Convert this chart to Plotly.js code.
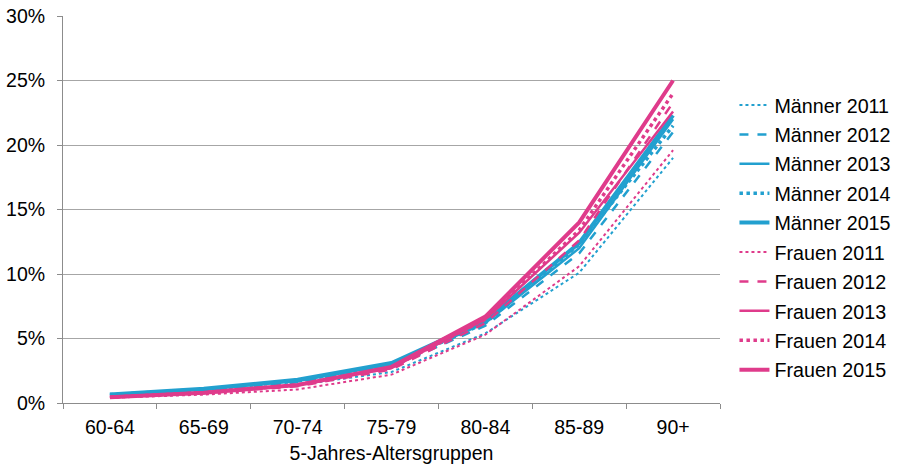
<!DOCTYPE html>
<html>
<head>
<meta charset="utf-8">
<script src="https://cdn.plot.ly/plotly-3.0.1.min.js"></script>
<style>html,body{margin:0;padding:0;background:#fff;}#chart{width:899px;height:466px;}</style>
</head>
<body>
<div id="chart"></div>
<script>
const categories = ["60-64","65-69","70-74","75-79","80-84","85-89","90+"];
const maenner2011 = [0.60, 0.95, 1.40, 2.40, 5.40, 10.1, 19.0];
const maenner2012 = [0.60, 1.00, 1.60, 2.80, 6.00, 11.6, 21.0];
const maenner2013 = [0.65, 1.05, 1.70, 3.00, 6.20, 12.0, 22.0];
const maenner2014 = [0.65, 1.05, 1.70, 3.00, 6.20, 12.3, 21.5];
const maenner2015 = [0.65, 1.10, 1.80, 3.10, 6.40, 12.4, 22.3];
const frauen2011 = [0.40, 0.65, 1.05, 2.20, 5.30, 10.6, 19.6];
const frauen2012 = [0.45, 0.75, 1.30, 2.60, 6.20, 12.6, 23.3];
const frauen2013 = [0.45, 0.80, 1.40, 2.70, 6.50, 13.2, 22.6];
const frauen2014 = [0.45, 0.80, 1.40, 2.75, 6.50, 13.4, 24.0];
const frauen2015 = [0.45, 0.80, 1.40, 2.80, 6.70, 14.0, 25.0];
const yTicks = [0, 5, 10, 15, 20, 25, 30];

const blue = "#22A0CF";
const pink = "#DF3B8B";

const series = [
  {name: "Männer 2011", y: maenner2011, color: blue, dash: "dot", width: 2},
  {name: "Männer 2012", y: maenner2012, color: blue, dash: "dash", width: 2.5},
  {name: "Männer 2013", y: maenner2013, color: blue, dash: "solid", width: 2.5},
  {name: "Männer 2014", y: maenner2014, color: blue, dash: "dot", width: 3.5},
  {name: "Männer 2015", y: maenner2015, color: blue, dash: "solid", width: 4},
  {name: "Frauen 2011", y: frauen2011, color: pink, dash: "dot", width: 2},
  {name: "Frauen 2012", y: frauen2012, color: pink, dash: "dash", width: 2.5},
  {name: "Frauen 2013", y: frauen2013, color: pink, dash: "solid", width: 2.5},
  {name: "Frauen 2014", y: frauen2014, color: pink, dash: "dot", width: 3.5},
  {name: "Frauen 2015", y: frauen2015, color: pink, dash: "solid", width: 4}
];

const traces = series.map((s, i) => ({
  type: "scatter", mode: "lines", x: categories, y: s.y, name: s.name,
  legendgroup: "g" + i,
  line: {color: s.color, dash: s.dash, width: s.width}
}));

const layout = {
  width: 899, height: 466,
  margin: {l: 63, r: 179, t: 16, b: 63, autoexpand: false},
  paper_bgcolor: "#fff", plot_bgcolor: "#fff",
  font: {family: "Liberation Sans, Arial, sans-serif", size: 19.5, color: "#000"},
  showlegend: true,
  legend: {x: 1.022, xanchor: "left", y: 0.82, yanchor: "top", tracegroupgap: 0.8,
           font: {size: 19.7, color: "#000"}, bgcolor: "rgba(0,0,0,0)"},
  xaxis: {
    type: "category", range: [-0.5, 6.5], showgrid: false, showline: true, linecolor: "#8c8c8c", linewidth: 1,
    ticks: "outside", tickson: "boundaries", ticklen: 5, tickcolor: "#8c8c8c",
    tickfont: {size: 19.5}, zeroline: false, ticklabelstandoff: 7,
    title: {text: "5-Jahres-Altersgruppen", font: {size: 19.5}, standoff: 8}
  },
  yaxis: {
    range: [0, 30], tickvals: yTicks, ticktext: yTicks.map(v => v + "%"),
    showgrid: true, gridcolor: "#a6a6a6", gridwidth: 1,
    showline: true, linecolor: "#8c8c8c", linewidth: 1,
    ticks: "outside", ticklen: 5, tickcolor: "#8c8c8c",
    tickfont: {size: 19.5}, zeroline: false, ticklabelstandoff: 8
  }
};

Plotly.newPlot("chart", traces, layout, {displayModeBar: false, staticPlot: true});
</script>
</body>
</html>
